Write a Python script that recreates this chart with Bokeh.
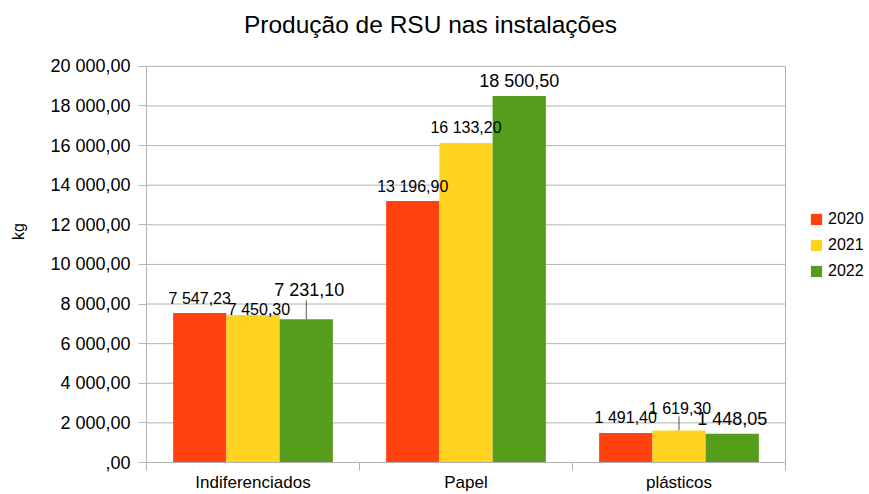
import math
from bokeh.plotting import figure
from bokeh.models import (ColumnDataSource, Range1d, LinearAxis, FixedTicker, Legend, LegendItem,
                          Label)
from bokeh.transform import dodge
from bokeh.core.properties import value
from bokeh.embed import file_html
from bokeh.resources import INLINE

# ---------------- data ----------------
chart_title = "Produção de RSU nas instalações"
categories = ["Indiferenciados", "Papel", "plásticos"]
years = ["2020", "2021", "2022"]
v2020 = [7547.23, 13196.90, 1491.40]
v2021 = [7450.30, 16133.20, 1619.30]
v2022 = [7231.10, 18500.50, 1448.05]
y_ticks = [0, 2000, 4000, 6000, 8000, 10000, 12000, 14000, 16000, 18000, 20000]
y_axis_title = "kg"


def fmt(v):
    s = f"{v:,.2f}".replace(",", " ").replace(".", ",")
    if s.startswith("0,"):
        s = s[1:]
    return s


y_tick_labels = [fmt(t) for t in y_ticks]
n_cat = len(categories)
cat_centers = [i + 0.5 for i in range(n_cat)]      # category slot centres
cat_bounds = list(range(n_cat + 1))                # category slot boundaries

# ---------------- style / layout ----------------
FONT = "Liberation Sans"
GRAY = "#b3b3b3"
colors = {"2020": "#ff420e", "2021": "#ffd320", "2022": "#579d1c"}
label_sizes = {"2020": "16px", "2021": "16px", "2022": "18px"}
offsets = {"2020": -0.25, "2021": 0.0, "2022": 0.25}
LABEL_DY = -15
# label nudges (screen px): (category, year) -> (dx, dy)
nudges = {("Indiferenciados", "2021"): (6, 10),
          ("Indiferenciados", "2022"): (3, -14.5),
          ("plásticos", "2021"): (1, -7)}
# leader lines (screen px length)
leaders = {("Indiferenciados", "2022"): 19, ("plásticos", "2021"): 14}
RIGHT_SPACE = 723 / 639   # frame width / plot-area width (room for the legend)
TOP_SPACE = 463 / 397     # frame height / plot-area height (room for the title)

y_max = y_ticks[-1]
p = figure(width=869, height=494, x_range=Range1d(0, n_cat * RIGHT_SPACE),
           y_range=Range1d(0, y_max * TOP_SPACE),
           output_backend="svg", toolbar_location=None, x_axis_location=None,
           min_border_left=146, min_border_right=0, min_border_top=0, min_border_bottom=31)

p.outline_line_color = None
p.background_fill_color = "white"
p.border_fill_color = "white"
p.xgrid.visible = False
p.ygrid.visible = False

# title (drawn inside the frame, which extends to the top of the canvas)
p.add_layout(Label(x=284, y=438, x_units="screen", y_units="screen", text=chart_title,
                   text_align="center", text_baseline="alphabetic",
                   text_font=FONT, text_font_size="24.5px", text_color="black"))

# y axis
ya = p.yaxis[0]
ya.ticker = FixedTicker(ticks=y_ticks)
ya.bounds = (0, y_max)
ya.major_label_overrides = {t: l for t, l in zip(y_ticks, y_tick_labels)}
ya.axis_line_color = GRAY
ya.major_tick_line_color = GRAY
ya.major_tick_out = 8
ya.major_tick_in = 0
ya.minor_tick_line_color = None
ya.major_label_text_font = FONT
ya.major_label_text_font_size = "18px"
ya.major_label_text_color = "black"
ya.major_label_standoff = 8
ya.axis_label = y_axis_title
ya.axis_label_text_font = FONT
ya.axis_label_text_font_size = "16px"
ya.axis_label_text_font_style = "normal"
ya.axis_label_text_color = "black"
ya.axis_label_standoff = 20

# x axis: labels at category centres, tick marks at category boundaries
xa = LinearAxis(ticker=FixedTicker(ticks=cat_centers, minor_ticks=cat_bounds),
                major_label_overrides={c: name for c, name in zip(cat_centers, categories)},
                bounds=(0, n_cat),
                major_tick_line_color=None, major_tick_out=0, major_tick_in=0,
                minor_tick_line_color=GRAY, minor_tick_out=8, minor_tick_in=0,
                axis_line_color=GRAY, major_label_standoff=2,
                major_label_text_font=FONT, major_label_text_font_size="17px",
                major_label_text_color="black")
p.add_layout(xa, "below")

# horizontal grid lines and right border of the plot area
p.segment(x0=0, x1=n_cat, y0=y_ticks, y1=y_ticks, line_color=GRAY, line_width=1)
p.segment(x0=n_cat, x1=n_cat, y0=y_ticks[0], y1=y_max, line_color=GRAY, line_width=1)

series = {"2020": v2020, "2021": v2021, "2022": v2022}
sources = {}
items = []
for yr in years:
    vals = series[yr]
    dx = [nudges.get((c, yr), (0, 0))[0] for c in categories]
    dy = [LABEL_DY + nudges.get((c, yr), (0, 0))[1] for c in categories]
    src = ColumnDataSource(dict(x=cat_centers, val=vals, lbl=[fmt(v) for v in vals], dx=dx, dy=dy))
    sources[yr] = src
    r = p.vbar(x=dodge("x", offsets[yr]), top="val", width=0.25, source=src,
               fill_color=colors[yr], line_color=None)
    items.append(LegendItem(label=yr, renderers=[r]))

for yr in years:
    vals = series[yr]
    idx = [i for i, c in enumerate(categories) if (c, yr) in leaders]
    if idx:
        lsrc = ColumnDataSource(dict(x=[cat_centers[i] for i in idx], val=[vals[i] for i in idx],
                                     ln=[leaders[(categories[i], yr)] for i in idx]))
        p.ray(x=dodge("x", offsets[yr]), y="val", length="ln",
              length_units="screen", angle=math.pi / 2, source=lsrc,
              line_color="#555555", line_width=1)

for yr in years:
    p.text(x=dodge("x", offsets[yr]), y="val", text="lbl", source=sources[yr],
           x_offset="dx", y_offset="dy", text_align="center", text_baseline="alphabetic",
           text_font=value(FONT), text_font_size=value(label_sizes[yr]), text_color="black")

legend = Legend(items=items, location=(663, 181), orientation="vertical",
                border_line_color=None, background_fill_alpha=0,
                label_text_font=FONT, label_text_font_size="16px", label_text_color="black",
                glyph_width=14, glyph_height=14, label_height=20, spacing=6,
                label_standoff=5, padding=0, margin=0)
p.add_layout(legend)

open("out.html", "w").write(file_html(p, INLINE))
